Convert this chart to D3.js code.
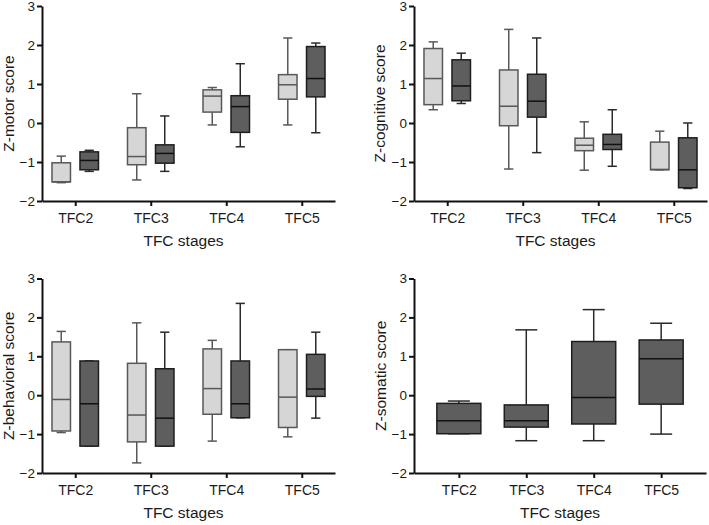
<!DOCTYPE html>
<html>
<head>
<meta charset="utf-8">
<script src="https://cdn.jsdelivr.net/npm/d3@7"></script>
<style>
  html, body { margin: 0; padding: 0; background: #fff; }
  svg { display: block; font-family: "Liberation Sans", Arial, sans-serif; }
</style>
</head>
<body>
<svg id="chart" width="709" height="525"></svg>
<script>
// ---- data: each entry is [min, q1, median, q3, max] ----
const categories = ["TFC2", "TFC3", "TFC4", "TFC5"];
const yTicks = [-2, -1, 0, 1, 2, 3];
const xTitle = "TFC stages";

const motorLight = [
  [-1.53, -1.51, -1.51, -1.02, -0.85],
  [-1.46, -1.07, -0.86, -0.12, 0.75],
  [-0.05, 0.28, 0.69, 0.85, 0.91],
  [-0.05, 0.61, 0.98, 1.24, 2.18]
];
const motorDark = [
  [-1.24, -1.20, -0.96, -0.74, -0.70],
  [-1.24, -1.03, -0.78, -0.56, 0.18],
  [-0.61, -0.24, 0.42, 0.70, 1.52],
  [-0.25, 0.67, 1.14, 1.96, 2.05]
];
const cognitiveLight = [
  [0.34, 0.47, 1.14, 1.91, 2.08],
  [-1.18, -0.07, 0.43, 1.36, 2.40],
  [-1.21, -0.71, -0.57, -0.39, 0.03],
  [-1.20, -1.20, -1.19, -0.49, -0.21]
];
const cognitiveDark = [
  [0.50, 0.57, 0.95, 1.62, 1.79],
  [-0.76, 0.15, 0.56, 1.25, 2.18],
  [-1.11, -0.68, -0.55, -0.29, 0.34],
  [-1.68, -1.66, -1.20, -0.38, 0.00]
];
const behavioralLight = [
  [-0.96, -0.92, -0.11, 1.37, 1.64],
  [-1.74, -1.20, -0.51, 0.82, 1.86],
  [-1.18, -0.49, 0.17, 1.19, 1.41],
  [-1.07, -0.83, -0.05, 1.17, 1.17]
];
const behavioralDark = [
  [-1.31, -1.31, -0.22, 0.88, 0.88],
  [-1.31, -1.31, -0.59, 0.68, 1.62],
  [-0.58, -0.58, -0.22, 0.88, 2.36],
  [-0.59, -0.03, 0.16, 1.05, 1.62]
];
const somatic = [
  [-0.99, -0.99, -0.66, -0.21, -0.15],
  [-1.17, -0.82, -0.66, -0.25, 1.68],
  [-1.17, -0.74, -0.06, 1.38, 2.20],
  [-1.00, -0.23, 0.94, 1.42, 1.85]
];

// ---- styles ----
const LIGHT = { fill: "#d6d6d6", stroke: "#585858", median: "#585858", whisker: "#585858" };
const DARK  = { fill: "#5e5e5e", stroke: "#1e1e1e", median: "#111111", whisker: "#2a2a2a" };

const panels = [
  { title: "Z-motor score", x0: 42, x1: 335, y0: 6, y1: 201, pad: 0.44, boxW: 18.5, spread: 14,
    series: [{ data: motorLight, st: LIGHT }, { data: motorDark, st: DARK }], titleX: 13.5 },
  { title: "Z-cognitive score", x0: 414, x1: 707, y0: 6, y1: 201, pad: 0.44, boxW: 18.5, spread: 14,
    series: [{ data: cognitiveLight, st: LIGHT }, { data: cognitiveDark, st: DARK }], titleX: 384.5 },
  { title: "Z-behavioral score", x0: 42, x1: 335, y0: 278.5, y1: 473, pad: 0.44, boxW: 18.5, spread: 14,
    series: [{ data: behavioralLight, st: LIGHT }, { data: behavioralDark, st: DARK }], titleX: 13.5 },
  { title: "Z-somatic score", x0: 414, x1: 706, y0: 278.5, y1: 473, pad: 0.665, boxW: 44, spread: 0,
    series: [{ data: somatic, st: DARK }], titleX: 386 }
];

const svg = d3.select("#chart");

panels.forEach(p => {
  const g = svg.append("g");
  const y = d3.scaleLinear().domain([-2, 3]).range([p.y1, p.y0]);
  const x = d3.scalePoint().domain(categories).range([p.x0, p.x1]).padding(p.pad);
  const sub = d3.scalePoint()
    .domain(d3.range(p.series.length))
    .range(p.series.length > 1 ? [-p.spread, p.spread] : [0, 0]);

  // boxes
  p.series.forEach((s, si) => {
    const st = s.st;
    const gs = g.append("g");
    const items = categories.map((c, i) => ({ c, v: s.data[i] }));
    const cx = d => x(d.c) + sub(si);
    const half = p.boxW / 2;
    const cap = p.boxW / 4;

    // whiskers
    gs.selectAll(".wu").data(items).join("line")
      .attr("x1", cx).attr("x2", cx)
      .attr("y1", d => y(d.v[3])).attr("y2", d => y(d.v[4]))
      .attr("stroke", st.whisker).attr("stroke-width", 1.5);
    gs.selectAll(".wl").data(items).join("line")
      .attr("x1", cx).attr("x2", cx)
      .attr("y1", d => y(d.v[1])).attr("y2", d => y(d.v[0]))
      .attr("stroke", st.whisker).attr("stroke-width", 1.5);
    // caps
    gs.selectAll(".cu").data(items).join("line")
      .attr("x1", d => cx(d) - cap).attr("x2", d => cx(d) + cap)
      .attr("y1", d => y(d.v[4])).attr("y2", d => y(d.v[4]))
      .attr("stroke", st.whisker).attr("stroke-width", 1.5);
    gs.selectAll(".cl").data(items).join("line")
      .attr("x1", d => cx(d) - cap).attr("x2", d => cx(d) + cap)
      .attr("y1", d => y(d.v[0])).attr("y2", d => y(d.v[0]))
      .attr("stroke", st.whisker).attr("stroke-width", 1.5);
    // box
    gs.selectAll(".bx").data(items).join("rect")
      .attr("x", d => cx(d) - half).attr("width", p.boxW)
      .attr("y", d => y(d.v[3])).attr("height", d => Math.max(0.5, y(d.v[1]) - y(d.v[3])))
      .attr("fill", st.fill).attr("stroke", st.stroke).attr("stroke-width", 1.5);
    // median
    gs.selectAll(".md").data(items).join("line")
      .attr("x1", d => cx(d) - half).attr("x2", d => cx(d) + half)
      .attr("y1", d => y(d.v[2])).attr("y2", d => y(d.v[2]))
      .attr("stroke", st.median).attr("stroke-width", 1.5);
  });

  // axes
  const ya = g.append("g").attr("transform", `translate(${p.x0},0)`)
    .call(d3.axisLeft(y).tickValues(yTicks).tickFormat(d3.format("d")).tickSize(5).tickSizeOuter(0).tickPadding(2));
  const xa = g.append("g").attr("transform", `translate(0,${p.y1})`)
    .call(d3.axisBottom(x).tickSize(5).tickSizeOuter(0).tickPadding(7));
  [ya, xa].forEach(a => {
    a.select(".domain").attr("stroke", "#111").attr("stroke-width", 2);
    a.selectAll(".tick line").attr("stroke", "#111").attr("stroke-width", 2);
    a.selectAll(".tick text").attr("fill", "#1a1a1a").style("font-size", "14px")
      .style("font-family", '"Liberation Sans", Arial, sans-serif');
  });
  ya.selectAll(".tick text").style("font-size", "13.5px");

  // x title
  g.append("text")
    .attr("x", (p.x0 + p.x1) / 2 + (p.series.length > 1 ? -5 : 0))
    .attr("y", p.y1 + 45)
    .attr("text-anchor", "middle")
    .attr("fill", "#1a1a1a")
    .style("font-size", "15.5px")
    .text(xTitle);

  // y title
  g.append("text")
    .attr("transform", `translate(${p.titleX},${(p.y0 + p.y1) / 2}) rotate(-90)`)
    .attr("text-anchor", "middle")
    .attr("fill", "#1a1a1a")
    .style("font-size", "15.5px")
    .text(p.title);
});
</script>
</body>
</html>
